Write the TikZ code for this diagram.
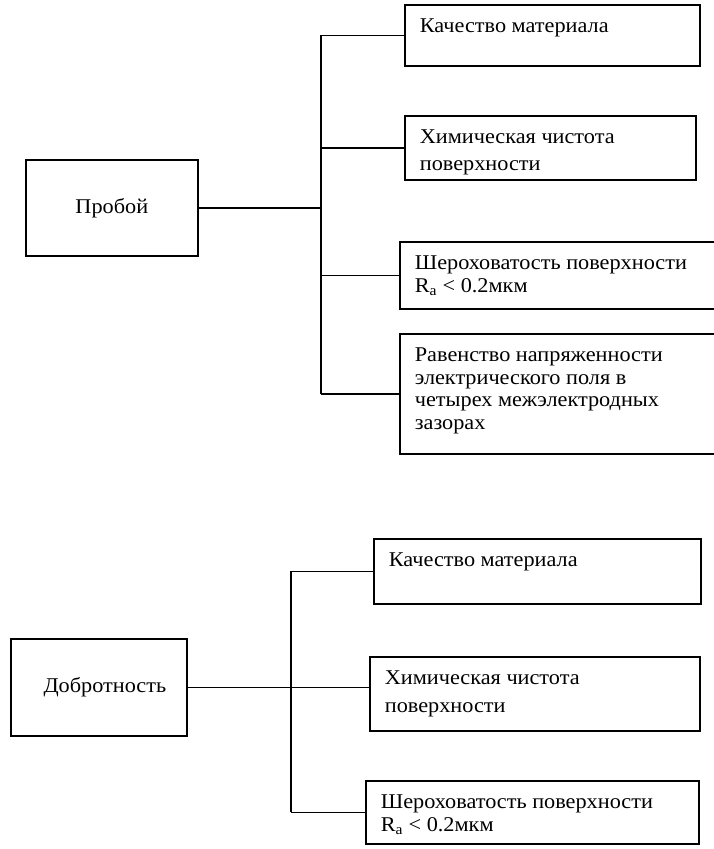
\documentclass[tikz,border=0pt]{standalone}
\usepackage{fontspec}
\setmainfont{Liberation Serif}[FakeStretch=1.06]
\newcommand{\leaftext}[3]{\parbox[c][#2][t]{#1}{\leftskip=15pt\rightskip=0pt plus 1fil\parindent=0pt\rule{0pt}{28pt}#3}}
\tikzset{
  box/.style={draw, line width=1.7pt, inner sep=0pt, anchor=north west},
  mainbox/.style={draw, line width=1.7pt, inner sep=0pt, anchor=north west, align=center},
  conn/.style={line width=1.7pt}
}
\begin{document}
\begin{tikzpicture}[x=1pt, y=-1pt, font=\fontsize{21}{22.5}\selectfont]
\useasboundingbox (0,0) rectangle (713,849);
% ---- top group
\node[mainbox, minimum width=172pt, minimum height=96pt] (P) at (25,159) {Пробой};
\node[box] (B1) at (404,4) {\leaftext{295pt}{61pt}{Качество материала}};
\node[box] (B2) at (404,115) {\leaftext{291pt}{64pt}{Химическая чистота\\[4pt] поверхности}};
\node[box] (B3) at (399,241) {\leaftext{320pt}{67pt}{Шероховатость поверхности\\ R\textsubscript{a} < 0.2мкм}};
\node[box] (B4) at (399,333) {\leaftext{320pt}{120pt}{Равенство напряженности\\ электрического поля в\\ четырех межэлектродных\\ зазорах}};
\coordinate (tx) at (321,0);
\draw[conn] (B1.west -| tx) -- (B4.west -| tx);
\draw[conn] (P.east) -- (P.east -| tx);
\foreach \n in {B1,B2,B3,B4} \draw[conn] (\n.west) -- (\n.west -| tx);
% ---- bottom group
\node[mainbox, minimum width=176pt, minimum height=97pt] (D) at (10,638) {\hspace*{12pt}Добротность};
\node[box] (D1) at (373,538) {\leaftext{327pt}{65pt}{Качество материала}};
\node[box] (D2) at (369,656) {\leaftext{330pt}{74pt}{Химическая чистота\\[5pt] поверхности}};
\node[box] (D3) at (365,780) {\leaftext{333pt}{63pt}{Шероховатость поверхности\\ R\textsubscript{a} < 0.2мкм}};
\coordinate (bx) at (291,0);
\draw[conn] (D1.west -| bx) -- (D3.west -| bx);
\draw[conn] (D.east) -- (D.east -| D2.west);
\foreach \n in {D1,D3} \draw[conn] (\n.west) -- (\n.west -| bx);
\end{tikzpicture}
\end{document}
